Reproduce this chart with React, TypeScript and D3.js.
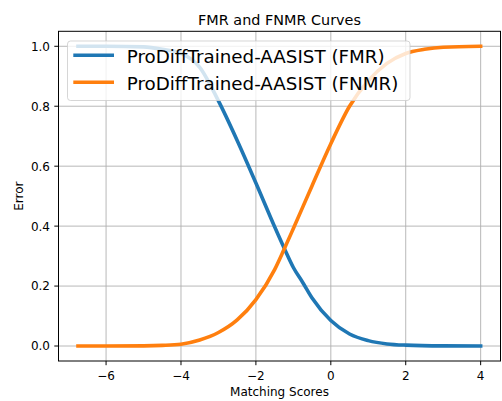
import React from "react";
import * as d3 from "d3";

// Matching-score thresholds and the error rates measured at each
const fmrScores = [-6.75, -6, -5, -4.5, -4, -3.5, -3, -2.5, -2, -1.5, -1.25, -1, -0.75, -0.5, 0, 0.5, 1, 1.5, 2, 3, 4];
const fmrValues = [1.0, 1.0, 0.998, 0.99, 0.976, 0.93, 0.818, 0.686, 0.544, 0.398, 0.328, 0.262, 0.212, 0.16, 0.085, 0.04, 0.018, 0.007, 0.003, 0.0005, 0];

const fnmrScores = [-6.75, -6, -5, -4.5, -4, -3.5, -3, -2.5, -2, -1.5, -1.25, -1, -0.5, 0, 0.5, 1, 1.5, 2, 2.5, 3, 4];
const fnmrValues = [0, 0, 0.0005, 0.002, 0.006, 0.02, 0.045, 0.087, 0.155, 0.255, 0.322, 0.392, 0.535, 0.675, 0.8, 0.885, 0.943, 0.976, 0.99, 0.997, 1.0];

const xTicks = [-6, -4, -2, 0, 2, 4];
const yTicks = [0.0, 0.2, 0.4, 0.6, 0.8, 1.0];

const seriesNames = ["ProDiffTrained-AASIST (FMR)", "ProDiffTrained-AASIST (FNMR)"];
const seriesColors = ["#1f77b4", "#ff7f0e"];

const W = 502;
const H = 401;
const left = 58.5;
const right = 500.5;
const top = 31.3;
const bottom = 361;
const FONT = "DejaVu Sans, sans-serif";

export default function App() {
  const x = d3.scaleLinear().domain([-7.27, 4.53]).range([left, right]);
  const y = d3.scaleLinear().domain([-0.05, 1.05]).range([bottom, top]);

  const line = d3
    .line<[number, number]>()
    .x((d) => x(d[0]))
    .y((d) => y(d[1]))
    .curve(d3.curveMonotoneX);

  const fmr = fmrScores.map((s, i) => [s, fmrValues[i]] as [number, number]);
  const fnmr = fnmrScores.map((s, i) => [s, fnmrValues[i]] as [number, number]);
  const series = [fmr, fnmr];

  const fmt = (v: number) => (v < 0 ? "\u2212" + Math.abs(v) : String(v));

  return (
    <div style={{ position: "absolute", left: 0, top: 0 }}>
      <svg width={W} height={H} style={{ display: "block", background: "#fff" }} fontFamily={FONT}>
        <rect x={0} y={0} width={W} height={H} fill="#fff" />
        {/* grid */}
        <g stroke="#b0b0b0" strokeWidth={0.9}>
          {xTicks.map((t) => (
            <line key={"gx" + t} x1={x(t)} x2={x(t)} y1={top} y2={bottom} />
          ))}
          {yTicks.map((t) => (
            <line key={"gy" + t} x1={left} x2={right} y1={y(t)} y2={y(t)} />
          ))}
        </g>
        {/* curves */}
        <g fill="none" strokeWidth={3.6} strokeLinecap="square" strokeLinejoin="round">
          {series.map((s, i) => (
            <path key={i} d={line(s) || ""} stroke={seriesColors[i]} />
          ))}
        </g>
        {/* frame */}
        <rect x={left} y={top} width={right - left} height={bottom - top} fill="none" stroke="#000" strokeWidth={1} />
        {/* x ticks */}
        <g fontSize={12} fill="#000">
          {xTicks.map((t) => (
            <g key={"tx" + t}>
              <line x1={x(t)} x2={x(t)} y1={bottom} y2={bottom + 4.2} stroke="#000" strokeWidth={1} />
              <text x={x(t)} y={380} textAnchor="middle">
                {fmt(t)}
              </text>
            </g>
          ))}
          {yTicks.map((t) => (
            <g key={"ty" + t}>
              <line x1={left - 4.2} x2={left} y1={y(t)} y2={y(t)} stroke="#000" strokeWidth={1} />
              <text x={50} y={y(t) + 4.4} textAnchor="end">
                {t.toFixed(1)}
              </text>
            </g>
          ))}
        </g>
        {/* labels */}
        <text x={(left + right) / 2} y={396} textAnchor="middle" fontSize={12} fill="#000">
          Matching Scores
        </text>
        <text
          transform={`translate(22.5, ${(top + bottom) / 2}) rotate(-90)`}
          textAnchor="middle"
          fontSize={12}
          fill="#000"
        >
          Error
        </text>
        <text x={(left + right) / 2} y={24.5} textAnchor="middle" fontSize={14.4} fill="#000">
          FMR and FNMR Curves
        </text>
        {/* legend */}
        <g>
          <rect
            x={67.5}
            y={41}
            width={342.5}
            height={59.5}
            rx={3}
            fill="#fff"
            fillOpacity={0.8}
            stroke="#cccccc"
            strokeOpacity={0.8}
            strokeWidth={1}
          />
          {seriesNames.map((name, i) => (
            <g key={name}>
              <line
                x1={73.3}
                x2={114}
                y1={55.3 + i * 27}
                y2={55.3 + i * 27}
                stroke={seriesColors[i]}
                strokeWidth={3.6}
              />
              <text x={126.7} y={62.6 + i * 27} fontSize={18.3} fill="#000">
                {name}
              </text>
            </g>
          ))}
        </g>
      </svg>
    </div>
  );
}
